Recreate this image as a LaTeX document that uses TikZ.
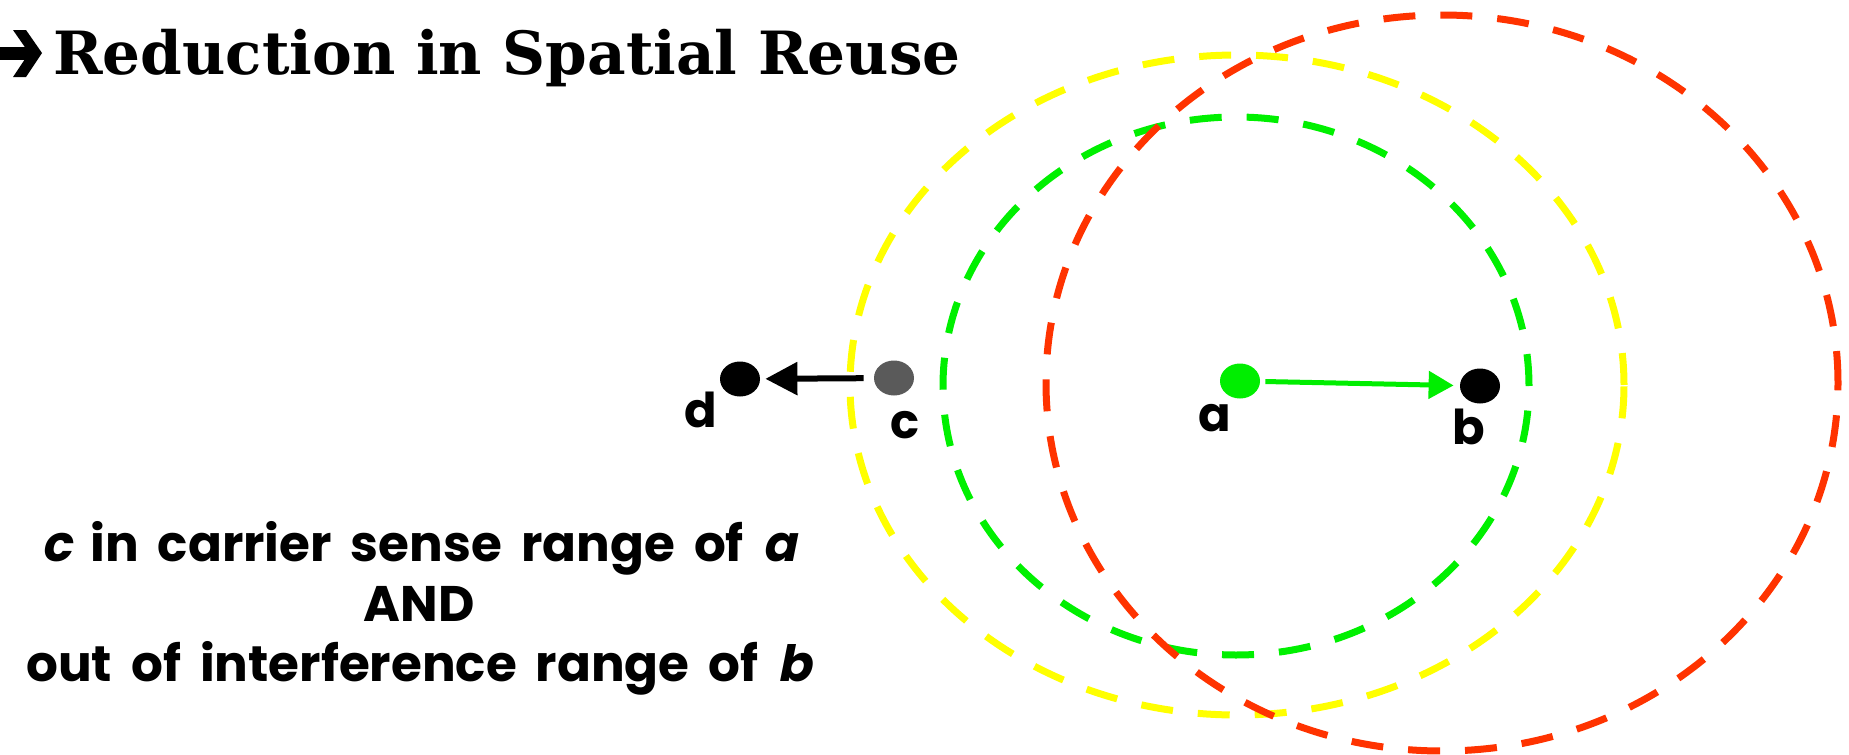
\documentclass[tikz,border=0pt]{standalone}
\usepackage{fontspec}
\usetikzlibrary{arrows.meta,shapes.geometric}
\newfontfamily\titlefont{DejaVu Serif}
\newfontfamily\comic{Poppins}
\newfontfamily\captionfont[WordSpace=1.8]{Poppins}
\newfontfamily\comicit[FakeSlant=0.2]{Poppins}
\definecolor{rangered}{HTML}{FF3300}
\definecolor{rangeyellow}{HTML}{FFFF00}
\definecolor{rangegreen}{HTML}{00F000}
\definecolor{nodegreen}{HTML}{00EE00}
\definecolor{nodegray}{HTML}{5A5A5A}
\tikzset{
  rangecircle/.style={line width=3.5pt, dash pattern=on 16pt off 12.5pt},
  station/.style={ellipse, minimum width=20pt, minimum height=17.5pt, inner sep=0pt},
  lbl/.style={font=\comic\bfseries\fontsize{24}{28}\selectfont, inner sep=0pt},
  greenarrow/.style={draw=nodegreen, line width=2.5pt, -{Triangle[length=12.5pt,width=13.5pt]}, shorten <=2.5pt, shorten >=3pt},
  blackarrow/.style={draw=black, line width=3pt, -{Triangle[length=16pt,width=16pt]}, shorten <=5pt, shorten >=2.5pt}
}
\begin{document}
\begin{tikzpicture}[x=0.5pt,y=-0.5pt]
\useasboundingbox[fill=white] (0,0) rectangle (1849,755);
% ranges
\draw[rangecircle, draw=rangeyellow] (1237,385) ellipse [x radius=193.5pt, y radius=165pt];
\draw[rangecircle, draw=rangegreen] (1236,386) ellipse [x radius=146.5pt, y radius=134.5pt];
\draw[rangecircle, draw=rangered] (1442,383) ellipse [x radius=198pt, y radius=184pt];
% title bullet
\fill (13,30) -- (26,30) -- (42,53) -- (26,77) -- (13,77) -- (29,53) -- cycle;
\fill (0,47) rectangle (30,60);
\node[anchor=base west, inner sep=0pt, font=\titlefont\bfseries\fontsize{29.8}{34}\selectfont] (title) at (53,74) {Reduction in Spatial Reuse};
% stations
\node[station, fill=nodegreen] (a) at (1240,381) {};
\node[station, fill=black] (b) at (1480,386) {};
\node[station, fill=nodegray] (c) at (894,378) {};
\node[station, fill=black] (d) at (740,379) {};
\node[lbl] (la) at (1215,418) {a};
\node[lbl] (lb) at (1469,427) {b};
\node[lbl] (lc) at (905,425) {c};
\node[lbl] (ld) at (701,410) {d};
% arrows
\draw[greenarrow] (a) -- (b);
\draw[blackarrow] (c) -- (d);
% caption
\node[align=center, inner sep=0pt, font=\captionfont\bfseries\fontsize{25}{30}\selectfont] (caption) at (419,608)
  {{\comicit\bfseries c} in carrier sense range of {\comicit\bfseries a}\\AND\\out of interference range of {\comicit\bfseries b}};
\end{tikzpicture}
\end{document}
